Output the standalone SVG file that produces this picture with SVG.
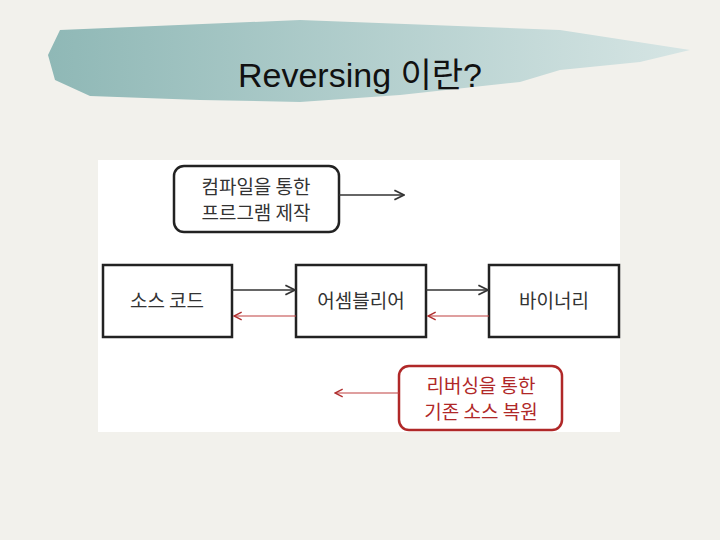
<svg xmlns="http://www.w3.org/2000/svg" width="720" height="540" viewBox="0 0 720 540">
<defs>
<linearGradient id="br" x1="0" x2="1"><stop offset="0" stop-color="#8fb8b6"/><stop offset="1" stop-color="#d6e5e4"/></linearGradient>
<marker id="ab" viewBox="0 0 10 10" refX="9" refY="5" markerWidth="8" markerHeight="8" orient="auto"><path d="M1 1L9 5L1 9" fill="none" stroke="#333" stroke-width="1.5"/></marker>
<marker id="ar" viewBox="0 0 10 10" refX="9" refY="5" markerWidth="8" markerHeight="8" orient="auto"><path d="M1 1L9 5L1 9" fill="none" stroke="#b03030" stroke-width="1.5"/></marker>
</defs>
<style>
.box{fill:#fff;stroke:#222;stroke-width:2.5}
.t{font-family:"Noto Sans CJK KR",sans-serif;font-size:19px;fill:#333;text-anchor:middle}
.r{fill:#b02828}
.lb{stroke:#333;stroke-width:1.5;fill:none;marker-end:url(#ab)}
.lr{stroke:#c04040;stroke-width:1.2;fill:none;marker-end:url(#ar)}
</style>
<rect width="720" height="540" fill="#f2f1ec"/>
<path d="M60 30 L300 20 L560 30 L690 50 L640 62 L560 70 L520 82 L400 95 L300 102 L200 100 L90 96 L55 80 L48 55 Z" fill="url(#br)"/>
<text x="360" y="87" font-family="Liberation Sans,'Noto Sans CJK KR',sans-serif" font-size="34" text-anchor="middle" fill="#111">Reversing 이란?</text>
<rect x="98" y="160" width="522" height="272" fill="#fff"/>
<g id="compile"><rect x="174" y="166" width="165" height="66" rx="10" class="box"/><text class="t" x="256" y="194">컴파일을 통한</text><text class="t" x="256" y="220">프르그램 제작</text></g>
<g id="source"><rect x="103" y="265" width="129" height="72" class="box"/><text class="t" x="167" y="308">소스 코드</text></g>
<g id="asm"><rect x="296" y="265" width="130" height="72" class="box"/><text class="t" x="361" y="308">어셈블리어</text></g>
<g id="bin"><rect x="489" y="265" width="130" height="72" class="box"/><text class="t" x="554" y="308">바이너리</text></g>
<g id="reverse"><rect x="399" y="366" width="163" height="64" rx="10" class="box" style="stroke:#b02828"/><text class="t r" x="481" y="393">리버싱을 통한</text><text class="t r" x="481" y="419">기존 소스 복원</text></g>
<g id="connectors">
<path class="lb" d="M339 195H404"/>
<path class="lb" d="M232 290H295"/>
<path class="lb" d="M426 290H488"/>
<path class="lr" d="M296 316H234"/>
<path class="lr" d="M489 316H428"/>
<path class="lr" d="M399 393H335"/>
</g>
</svg>
